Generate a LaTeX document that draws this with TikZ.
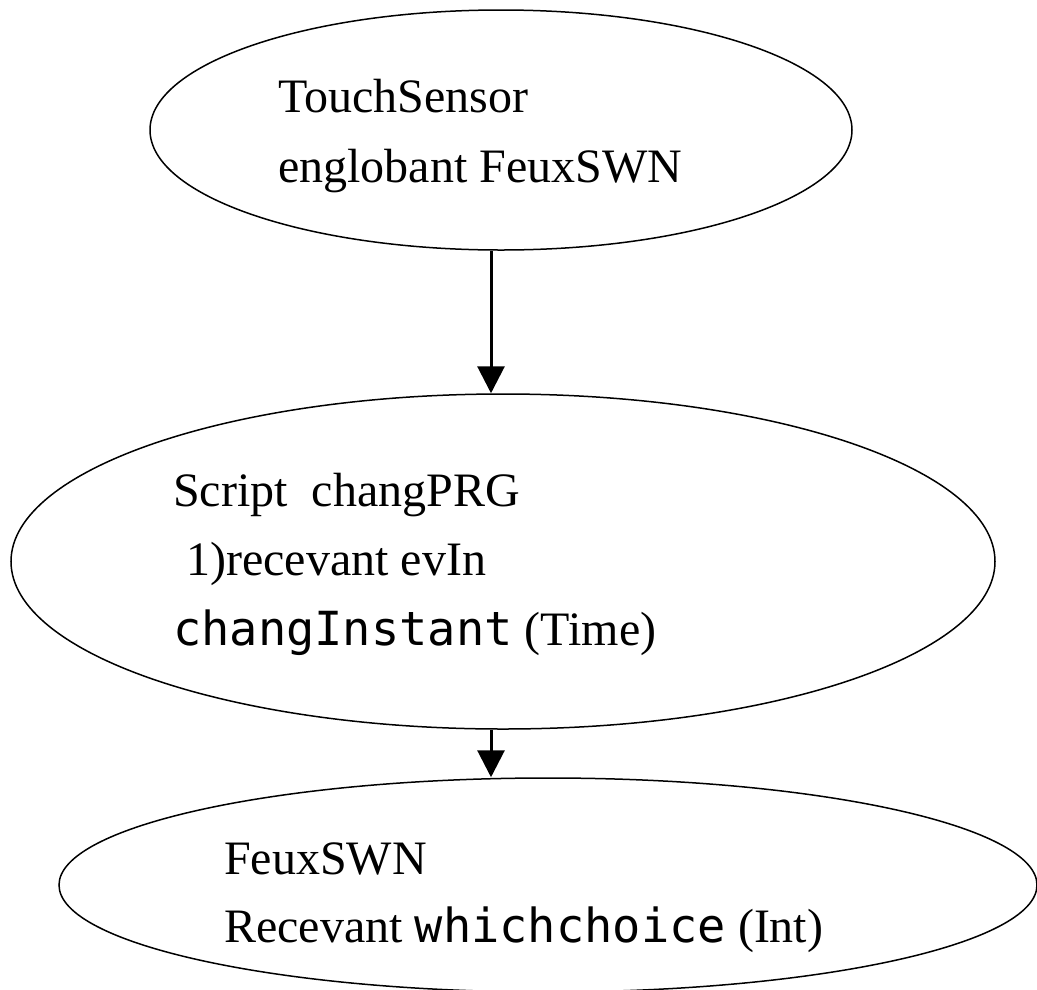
\documentclass[tikz,border=0pt]{standalone}
\usepackage{fontspec}
\setmainfont{Liberation Serif}
\newfontfamily\codefont{DejaVu Sans Mono}
\usetikzlibrary{shapes.geometric,arrows.meta}

\tikzset{
  bubble/.style={draw, ellipse, line width=1.5pt, inner sep=0pt},
  txt/.style={anchor=base west, inner sep=0pt, font=\fontsize{48}{58}\selectfont},
  arr/.style={line width=3pt, -{Triangle[width=27pt,length=27pt]}}
}
\newcommand{\code}[1]{{\codefont\fontsize{47}{58}\selectfont #1}}

\begin{document}
\begin{tikzpicture}[x=1pt,y=-1pt]
  \useasboundingbox (0,0) rectangle (1037,989);

  % the three states
  \node[bubble, minimum width=702pt, minimum height=240pt] (e1) at (501,130) {};
  \node[bubble, minimum width=984pt, minimum height=335pt] (e2) at (503,561.5) {};
  \node[bubble, minimum width=978pt, minimum height=214pt] (e3) at (548,885) {};

  % labels
  \node[txt] (t1a) at (278,112) {TouchSensor};
  \node[txt] (t1b) at (278,182) {englobant FeuxSWN};

  \node[txt] (t2a) at (173,506) {Script\ \ changPRG};
  \node[txt] (t2b) at (186,575) {1)recevant evIn};
  \node[txt] (t2c) at (173,645) {\code{changInstant} (Time)};

  \node[txt] (t3a) at (224,874) {FeuxSWN};
  \node[txt] (t3b) at (224,942) {Recevant \code{whichchoice} (Int)};

  % event flow
  \coordinate (axis) at (491,0);
  \draw[arr] (e1.south -| axis) -- (e2.north -| axis);
  \draw[arr] (e2.south -| axis) -- (e3.north -| axis);
\end{tikzpicture}
\end{document}
